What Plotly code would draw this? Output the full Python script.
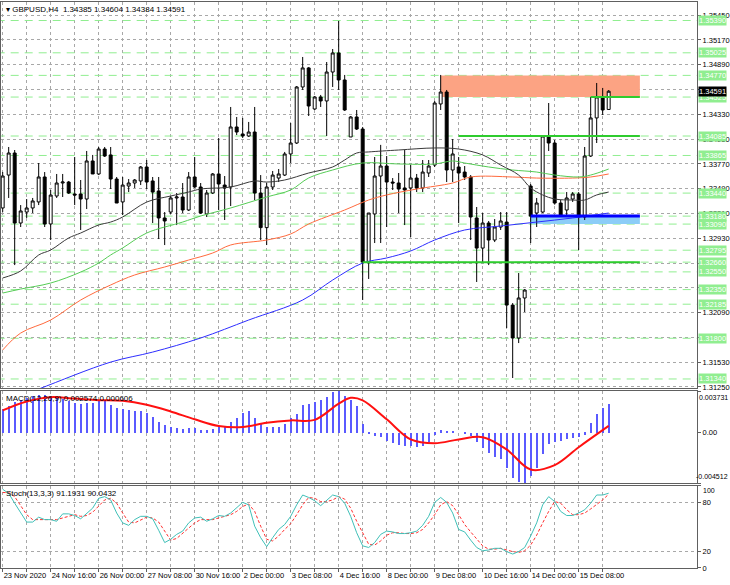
import plotly.graph_objects as go
from plotly.subplots import make_subplots

# GBPUSD H4, one value per bar, 23 Nov 2020 08:00 .. 16 Dec 2020 04:00
opens = [1.33272, 1.33644, 1.33893, 1.33102, 1.33226, 1.33272, 1.33340, 1.33622, 1.33091, 1.33407,
         1.33554, 1.33565, 1.33430, 1.33430, 1.33373, 1.33803, 1.33656, 1.33938, 1.33871, 1.33599,
         1.33340, 1.33520, 1.33554, 1.33577, 1.33735, 1.33577, 1.33464, 1.33159, 1.33226, 1.33385,
         1.33396, 1.33249, 1.33622, 1.33509, 1.33204, 1.33441, 1.33656, 1.33531, 1.33509, 1.34187,
         1.34108, 1.34085, 1.34130, 1.33441, 1.33050, 1.33509, 1.33610, 1.33644, 1.33882, 1.34006,
         1.34639, 1.34854, 1.34390, 1.34526, 1.34481, 1.34808, 1.35023, 1.34718, 1.34074, 1.34300,
         1.34164, 1.32661, 1.33204, 1.33633, 1.33746, 1.33565, 1.33554, 1.33498, 1.33498, 1.33610,
         1.33498, 1.33667, 1.33757, 1.34447, 1.34582, 1.33701, 1.33735, 1.33678, 1.33622, 1.33159,
         1.32819, 1.33102, 1.32910, 1.33057, 1.33113, 1.32175, 1.31803, 1.32255, 1.33520, 1.33215,
         1.33226, 1.34074, 1.34006, 1.33328, 1.33249, 1.33373, 1.33430, 1.33170, 1.33859, 1.34289,
         1.34526, 1.34385]
highs = [1.33678, 1.33961, 1.33927, 1.33305, 1.33373, 1.33385, 1.33780, 1.33678, 1.33475, 1.33656,
         1.33656, 1.33577, 1.33848, 1.33588, 1.33916, 1.33871, 1.33961, 1.33961, 1.33961, 1.33622,
         1.33622, 1.33599, 1.33599, 1.33746, 1.33814, 1.33622, 1.33622, 1.33226, 1.33407, 1.33441,
         1.33554, 1.33678, 1.33848, 1.33554, 1.33475, 1.33667, 1.34063, 1.33633, 1.34413, 1.34300,
         1.34289, 1.34244, 1.34413, 1.33644, 1.33554, 1.33690, 1.33712, 1.33905, 1.34232, 1.34650,
         1.34978, 1.34865, 1.34537, 1.34549, 1.34921, 1.35068, 1.35385, 1.34775, 1.34311, 1.34379,
         1.34187, 1.33215, 1.33848, 1.33985, 1.33859, 1.33610, 1.33667, 1.33927, 1.33757, 1.33656,
         1.33814, 1.33814, 1.34481, 1.34775, 1.34605, 1.34051, 1.33848, 1.33746, 1.33644, 1.33283,
         1.33215, 1.33125, 1.33147, 1.33226, 1.33226, 1.32198, 1.32537, 1.32356, 1.33543, 1.33385,
         1.34096, 1.34458, 1.34040, 1.33362, 1.33452, 1.33452, 1.33452, 1.33961, 1.34526, 1.34684,
         1.34628, 1.34604]
lows = [1.33226, 1.33385, 1.32627, 1.33057, 1.33159, 1.33215, 1.33305, 1.33057, 1.32910, 1.33385,
        1.33396, 1.33430, 1.33305, 1.33023, 1.33260, 1.33656, 1.33644, 1.33848, 1.33486, 1.33328,
        1.33193, 1.33452, 1.33498, 1.33531, 1.33486, 1.33102, 1.32921, 1.32853, 1.33204, 1.33079,
        1.33215, 1.33238, 1.33498, 1.33204, 1.33170, 1.33430, 1.33249, 1.33136, 1.33294, 1.34096,
        1.34063, 1.34074, 1.33362, 1.32910, 1.32853, 1.33475, 1.33565, 1.33633, 1.33780, 1.33995,
        1.34605, 1.34311, 1.34379, 1.34413, 1.34085, 1.34639, 1.34605, 1.34368, 1.34074, 1.34153,
        1.32232, 1.32470, 1.32876, 1.32876, 1.33057, 1.33475, 1.33215, 1.33079, 1.32944, 1.33452,
        1.33452, 1.33622, 1.33735, 1.34379, 1.33565, 1.33565, 1.33102, 1.33588, 1.32910, 1.32436,
        1.32650, 1.32627, 1.32887, 1.33023, 1.31916, 1.31351, 1.31746, 1.32096, 1.32876, 1.33057,
        1.33215, 1.33916, 1.33310, 1.33170, 1.33170, 1.33340, 1.32797, 1.33136, 1.33848, 1.34006,
        1.34322, 1.34384]
closes = [1.33633, 1.33893, 1.33102, 1.33238, 1.33272, 1.33351, 1.33622, 1.33091, 1.33418, 1.33554,
          1.33565, 1.33441, 1.33418, 1.33373, 1.33803, 1.33656, 1.33938, 1.33859, 1.33599, 1.33328,
          1.33531, 1.33554, 1.33588, 1.33735, 1.33565, 1.33452, 1.33159, 1.33125, 1.33385, 1.33396,
          1.33249, 1.33622, 1.33509, 1.33215, 1.33441, 1.33656, 1.33543, 1.33498, 1.34187, 1.34130,
          1.34085, 1.34130, 1.33441, 1.33050, 1.33509, 1.33644, 1.33656, 1.33882, 1.34006, 1.34639,
          1.34854, 1.34424, 1.34526, 1.34481, 1.34808, 1.35023, 1.34718, 1.34379, 1.34300, 1.34164,
          1.32661, 1.33215, 1.33633, 1.33746, 1.33565, 1.33554, 1.33486, 1.33475, 1.33610, 1.33498,
          1.33678, 1.33746, 1.34458, 1.34582, 1.33701, 1.33882, 1.33667, 1.33622, 1.33170, 1.32819,
          1.33102, 1.32910, 1.33057, 1.33125, 1.32175, 1.31803, 1.32255, 1.32345, 1.33180, 1.33328,
          1.34085, 1.34006, 1.33328, 1.33193, 1.33385, 1.33430, 1.33170, 1.33859, 1.34289, 1.34526,
          1.34379, 1.34591]
bars = list(range(len(opens)))

# x axis labels, one every 8 bars
date_labels = ["23 Nov 2020", "24 Nov 16:00", "26 Nov 00:00", "27 Nov 08:00", "30 Nov 16:00",
               "2 Dec 00:00", "3 Dec 08:00", "4 Dec 16:00", "8 Dec 00:00", "9 Dec 08:00",
               "10 Dec 16:00", "14 Dec 00:00", "15 Dec 08:00"]

price_ticks = [1.35450, 1.35170, 1.34890, 1.34610, 1.34330, 1.34050, 1.33770, 1.33490,
               1.33210, 1.32930, 1.32650, 1.32370, 1.32090, 1.31810, 1.31530, 1.31250]

# horizontal levels (dashed green, labelled on the price scale)
level_prices = [1.35390, 1.35025, 1.34770, 1.34525, 1.34085, 1.33865, 1.33440, 1.33180,
                1.33090, 1.32795, 1.32660, 1.32550, 1.32350, 1.32185, 1.31800, 1.31340]

# moving averages, read at a few bars
ma_black_bar = [0, 3, 6, 8, 11, 13, 16, 18, 20, 24, 28, 31, 33, 38, 42, 44, 47, 51, 55, 57,
                59, 61, 66, 72, 76, 80, 83, 86, 88, 90, 92, 95, 97, 99, 101]
ma_black = [1.32481, 1.32560, 1.32741, 1.32797, 1.32933, 1.32989, 1.33080, 1.33113, 1.33170, 1.33339,
            1.33407, 1.33452, 1.33486, 1.33509, 1.33577, 1.33565, 1.33588, 1.33667, 1.33735, 1.33814,
            1.33893, 1.33905, 1.33927, 1.33950, 1.33938, 1.33871, 1.33757, 1.33644, 1.33498, 1.33419,
            1.33373, 1.33362, 1.33362, 1.33419, 1.33452]
ma_green_bar = [0, 3, 8, 13, 16, 18, 20, 24, 30, 33, 38, 44, 48, 51, 55, 60, 66, 72, 75, 77,
                81, 85, 89, 92, 96, 98, 101]
ma_green = [1.32311, 1.32356, 1.32424, 1.32548, 1.32650, 1.32741, 1.32820, 1.32989, 1.33113, 1.33181,
            1.33272, 1.33396, 1.33475, 1.33611, 1.33701, 1.33780, 1.33769, 1.33769, 1.33803, 1.33780,
            1.33735, 1.33701, 1.33678, 1.33644, 1.33622, 1.33644, 1.33712]
ma_orange_bar = [0, 3, 8, 13, 18, 22, 27, 31, 35, 38, 44, 48, 51, 57, 61, 64, 69, 75, 78, 85,
                 89, 95, 98, 101]
ma_orange = [1.31667, 1.31859, 1.32006, 1.32232, 1.32402, 1.32515, 1.32605, 1.32684, 1.32763, 1.32854,
             1.32910, 1.32978, 1.33091, 1.33249, 1.33362, 1.33419, 1.33486, 1.33554, 1.33622, 1.33622,
             1.33610, 1.33610, 1.33622, 1.33656]
ma_blue_bar = [0, 6, 18, 25, 33, 41, 50, 55, 60, 64, 68, 72, 77, 83, 89, 95, 101]
ma_blue = [1.31068, 1.31226, 1.31531, 1.31644, 1.31803, 1.32006, 1.32232, 1.32458, 1.32650, 1.32707,
           1.32786, 1.32910, 1.33023, 1.33068, 1.33113, 1.33159, 1.33215]

# MACD(12,26,9): main as histogram, signal as line
macd_main = [0.00211, 0.00241, 0.00275, 0.00295, 0.00308, 0.00325, 0.00335, 0.00335, 0.00328, 0.00318,
             0.00302, 0.00285, 0.00268, 0.00255, 0.00268, 0.00268, 0.00291, 0.00285, 0.00251, 0.00224,
             0.00214, 0.00201, 0.00191, 0.00191, 0.00174, 0.00141, 0.00100, 0.00067, 0.00047, 0.00040,
             0.00034, 0.00040, 0.00044, 0.00027, 0.00023, 0.00034, 0.00050, 0.00057, 0.00100, 0.00134,
             0.00174, 0.00194, 0.00127, 0.00074, 0.00050, 0.00050, 0.00050, 0.00077, 0.00127, 0.00168,
             0.00245, 0.00255, 0.00275, 0.00295, 0.00318, 0.00362, 0.00369, 0.00328, 0.00295, 0.00241,
             0.00077, -0.00007, -0.00027, -0.00040, -0.00074, -0.00094, -0.00111, -0.00121, -0.00121, -0.00127,
             -0.00121, -0.00084, -0.00017, 0.00027, 0.00017, 0.00007, 0.00000, -0.00007, -0.00027, -0.00084,
             -0.00141, -0.00184, -0.00218, -0.00235, -0.00318, -0.00409, -0.00442, -0.00451, -0.00385, -0.00318,
             -0.00194, -0.00100, -0.00084, -0.00077, -0.00060, -0.00050, -0.00040, -0.00017, 0.00084, 0.00168,
             0.00218, 0.002574]
macd_signal_bar = [0, 4, 8, 12, 16, 20, 24, 28, 32, 36, 40, 44, 48, 52, 56, 58, 60, 64, 68, 72,
                   76, 80, 84, 88, 92, 96, 101]
macd_signal = [0.00200, 0.00280, 0.00318, 0.00305, 0.00291, 0.00285, 0.00250, 0.00190, 0.00120, 0.00060,
               0.00050, 0.00090, 0.00110, 0.00115, 0.00260, 0.00312, 0.00290, 0.00120, -0.00060, -0.00094,
               -0.00060, -0.00040, -0.00150, -0.00330, -0.00290, -0.00130, 0.000606]
macd_max, macd_min = 0.003731, -0.004512

# Stochastic(13,3,3)
stoch_main = [96, 91, 79, 67, 56, 56, 62, 59, 59, 57, 66, 66, 64, 60, 67, 73, 85, 87, 83, 67,
              55, 52, 59, 63, 63, 60, 46, 31, 35, 41, 45, 55, 61, 62, 57, 60, 64, 63, 67, 74,
              80, 77, 51, 37, 26, 37, 47, 53, 63, 77, 89, 86, 82, 76, 83, 89, 87, 79, 63, 43,
              27, 25, 31, 41, 45, 44, 42, 42, 43, 45, 52, 63, 80, 86, 80, 67, 47, 44, 34, 25,
              21, 22, 24, 24, 20, 17, 20, 25, 39, 55, 77, 87, 81, 69, 64, 64, 67, 71, 79, 89,
              89, 91.1931]
stoch_signal = [92, 92, 87, 76, 65, 59, 59, 59, 59, 59, 61, 63, 65, 63, 64, 68, 75, 83, 85, 79,
                67, 56, 55, 59, 62, 61, 56, 45, 34, 36, 42, 48, 55, 59, 59, 59, 61, 63, 65, 69,
                75, 78, 69, 51, 35, 33, 39, 47, 54, 65, 77, 86, 85, 81, 81, 83, 87, 84, 73, 57,
                42, 29, 28, 33, 40, 43, 43, 42, 42, 43, 47, 55, 65, 77, 81, 76, 65, 53, 44, 35,
                27, 23, 23, 24, 22, 20, 19, 21, 28, 40, 55, 69, 81, 79, 71, 65, 65, 67, 72, 77,
                83, 90.0432]

FONT = "Liberation Sans"
GRID = "#a8a8a8"
LEVEL_GREEN = "#90ee90"
last_bar = 106.2  # drawn objects run a little past the last candle
MAIN_DOM = [0.318, 1.0]
MACD_DOM = [0.150, 0.3127]
STOCH_DOM = [0.0, 0.1449]

fig = make_subplots(rows=3, cols=1, shared_xaxes=True, vertical_spacing=0.005)

# price panel
fig.add_trace(go.Candlestick(
    x=bars, open=opens, high=highs, low=lows, close=closes,
    increasing=dict(line=dict(color="black", width=1), fillcolor="white"),
    decreasing=dict(line=dict(color="black", width=1), fillcolor="black"),
    whiskerwidth=0, hoverinfo="skip", showlegend=False), row=1, col=1)

for xs, ys, colour in [(ma_blue_bar, ma_blue, "#2d2dff"),
                       (ma_orange_bar, ma_orange, "#ff6a3d"),
                       (ma_green_bar, ma_green, "#55cc55"),
                       (ma_black_bar, ma_black, "#3a3a3a")]:
    fig.add_trace(go.Scatter(x=xs, y=ys, mode="lines", line=dict(color=colour, width=1, shape="spline"),
                             hoverinfo="skip", showlegend=False), row=1, col=1)

# MACD panel
fig.add_trace(go.Bar(x=bars, y=macd_main, marker=dict(color="#5a5aff", line=dict(width=0)),
                     width=0.17, hoverinfo="skip", showlegend=False), row=2, col=1)
fig.add_trace(go.Scatter(x=macd_signal_bar, y=macd_signal, mode="lines",
                         line=dict(color="#ff1010", width=2, shape="spline"),
                         hoverinfo="skip", showlegend=False), row=2, col=1)

# Stochastic panel
fig.add_trace(go.Scatter(x=bars, y=stoch_signal, mode="lines",
                         line=dict(color="#ff3030", width=1, dash="3px,2px"),
                         hoverinfo="skip", showlegend=False), row=3, col=1)
fig.add_trace(go.Scatter(x=bars, y=stoch_main, mode="lines",
                         line=dict(color="#40c0b8", width=1),
                         hoverinfo="skip", showlegend=False), row=3, col=1)

# levels and zones
for p in level_prices:
    fig.add_shape(type="line", xref="x", yref="y", x0=-1, x1=120, y0=p, y1=p,
                  line=dict(color=LEVEL_GREEN, width=1, dash="8px,6px"), layer="between")
fig.add_shape(type="rect", xref="x", yref="y", x0=73, x1=last_bar, y0=1.34525, y1=1.34770,
              fillcolor="#fca383", line=dict(width=0), layer="between")
fig.add_shape(type="rect", xref="x", yref="y", x0=88, x1=last_bar, y0=1.33090, y1=1.33180,
              fillcolor="#8ccdf7", line=dict(width=0), layer="between")
fig.add_shape(type="line", xref="x", yref="y", x0=88, x1=last_bar, y0=1.33180, y1=1.33180,
              line=dict(color="#0000ff", width=3), layer="above")
for p, start in [(1.34085, 76), (1.32660, 60), (1.34525, 98)]:
    fig.add_shape(type="line", xref="x", yref="y", x0=start, x1=last_bar, y0=p, y1=p,
                  line=dict(color="#2ecc2e", width=2), layer="above")

# price scale labels for the levels and the last price
scale_font = dict(family=FONT, size=7.5, color="white")
for p in level_prices:
    fig.add_annotation(x=1, xref="paper", y=p, yref="y", xanchor="left", xshift=1, text=f"{p:.5f}",
                       showarrow=False, bgcolor=LEVEL_GREEN, borderpad=0, font=scale_font)
fig.add_annotation(x=1, xref="paper", y=closes[-1], yref="y", xanchor="left", xshift=1,
                   text=f"{closes[-1]:.5f}", showarrow=False, bgcolor="black", borderpad=0,
                   font=scale_font)

# scale ticks that sit right under a level box are covered by it, so leave their text out
covered = level_prices + [closes[-1]]
price_text = ["" if min(abs(t - c) for c in covered) < 0.00028 else f"{t:.5f}" for t in price_ticks]

# edge labels of the indicator scales, kept inside their panels like the terminal does
edge_font = dict(family=FONT, size=7, color="black")
for ypos, anchor, shift, txt in [(MACD_DOM[1], "top", -2, f"{macd_max:.6f}"),
                                 (MACD_DOM[0], "bottom", 2, f"{macd_min:.6f}")]:
    fig.add_annotation(x=1, xref="paper", y=ypos, yref="paper", xanchor="right", yanchor=anchor,
                       xshift=32, yshift=shift, text=txt, showarrow=False, borderpad=0, font=edge_font)
fig.add_annotation(x=1, xref="paper", y=94, yref="y3", xanchor="left", yanchor="middle",
                   xshift=5, text="100", showarrow=False, borderpad=0, font=edge_font)

# panel captions
captions = [
    (MAIN_DOM[1], f"▾ GBPUSD,H4  {opens[-1]:.5f} {highs[-1]:.5f} {lows[-1]:.5f} {closes[-1]:.5f}"),
    (MACD_DOM[1], f"MACD(12,26,9) {macd_main[-1]:.6f} {macd_signal[-1]:.6f}"),
    (STOCH_DOM[1], f"Stoch(13,3,3) {stoch_main[-1]:.4f} {stoch_signal[-1]:.4f}"),
]
for ytop, txt in captions:
    fig.add_annotation(x=0, xref="paper", y=ytop, yref="paper", xanchor="left", yanchor="top",
                       xshift=3, yshift=-1, text=txt, showarrow=False,
                       font=dict(family=FONT, size=8, color="black"))

tickvals = list(range(0, len(bars), 4))
ticktext = [date_labels[v // 8] if v % 8 == 0 else "" for v in tickvals]

axis_common = dict(showline=True, linecolor="#606060", linewidth=1, mirror=True,
                   showgrid=True, gridcolor=GRID, griddash="dot", gridwidth=1, zeroline=False)

fig.update_xaxes(range=[-0.28, 115.72], tickvals=tickvals, ticktext=ticktext,
                 rangeslider_visible=False, **axis_common)
fig.update_xaxes(ticks="outside", ticklen=3, tickcolor="#606060", ticklabelposition="outside right",
                 tickangle=0, tickfont=dict(family=FONT, size=7.5, color="black"), row=3, col=1)

fig.update_yaxes(side="right", ticks="outside", ticklen=3, tickcolor="#606060", automargin=False,
                 tickfont=dict(family=FONT, size=7.5, color="black"), **axis_common)
fig.update_yaxes(domain=MAIN_DOM, range=[1.31238, 1.35599], tickvals=price_ticks,
                 ticktext=price_text, row=1, col=1)
fig.update_yaxes(domain=MACD_DOM, range=[macd_min, macd_max], showgrid=False,
                 tickvals=[macd_max, 0.0, macd_min], ticktext=["", "0.00", ""], row=2, col=1)
fig.update_yaxes(domain=STOCH_DOM, range=[0, 100], tickvals=[100, 80, 20, 0],
                 ticktext=["", "80", "20", "0"], row=3, col=1)

fig.update_layout(width=730, height=585, margin=dict(l=1, r=33, t=2, b=17),
                  plot_bgcolor="white", paper_bgcolor="white", bargap=0,
                  font=dict(family=FONT, size=8, color="black"), showlegend=False)

# the page body keeps its default 8px margin otherwise, which pushes the chart off the window
fig.write_html("out.html", config={"displayModeBar": False},
               post_script="document.body.style.margin='0';")
